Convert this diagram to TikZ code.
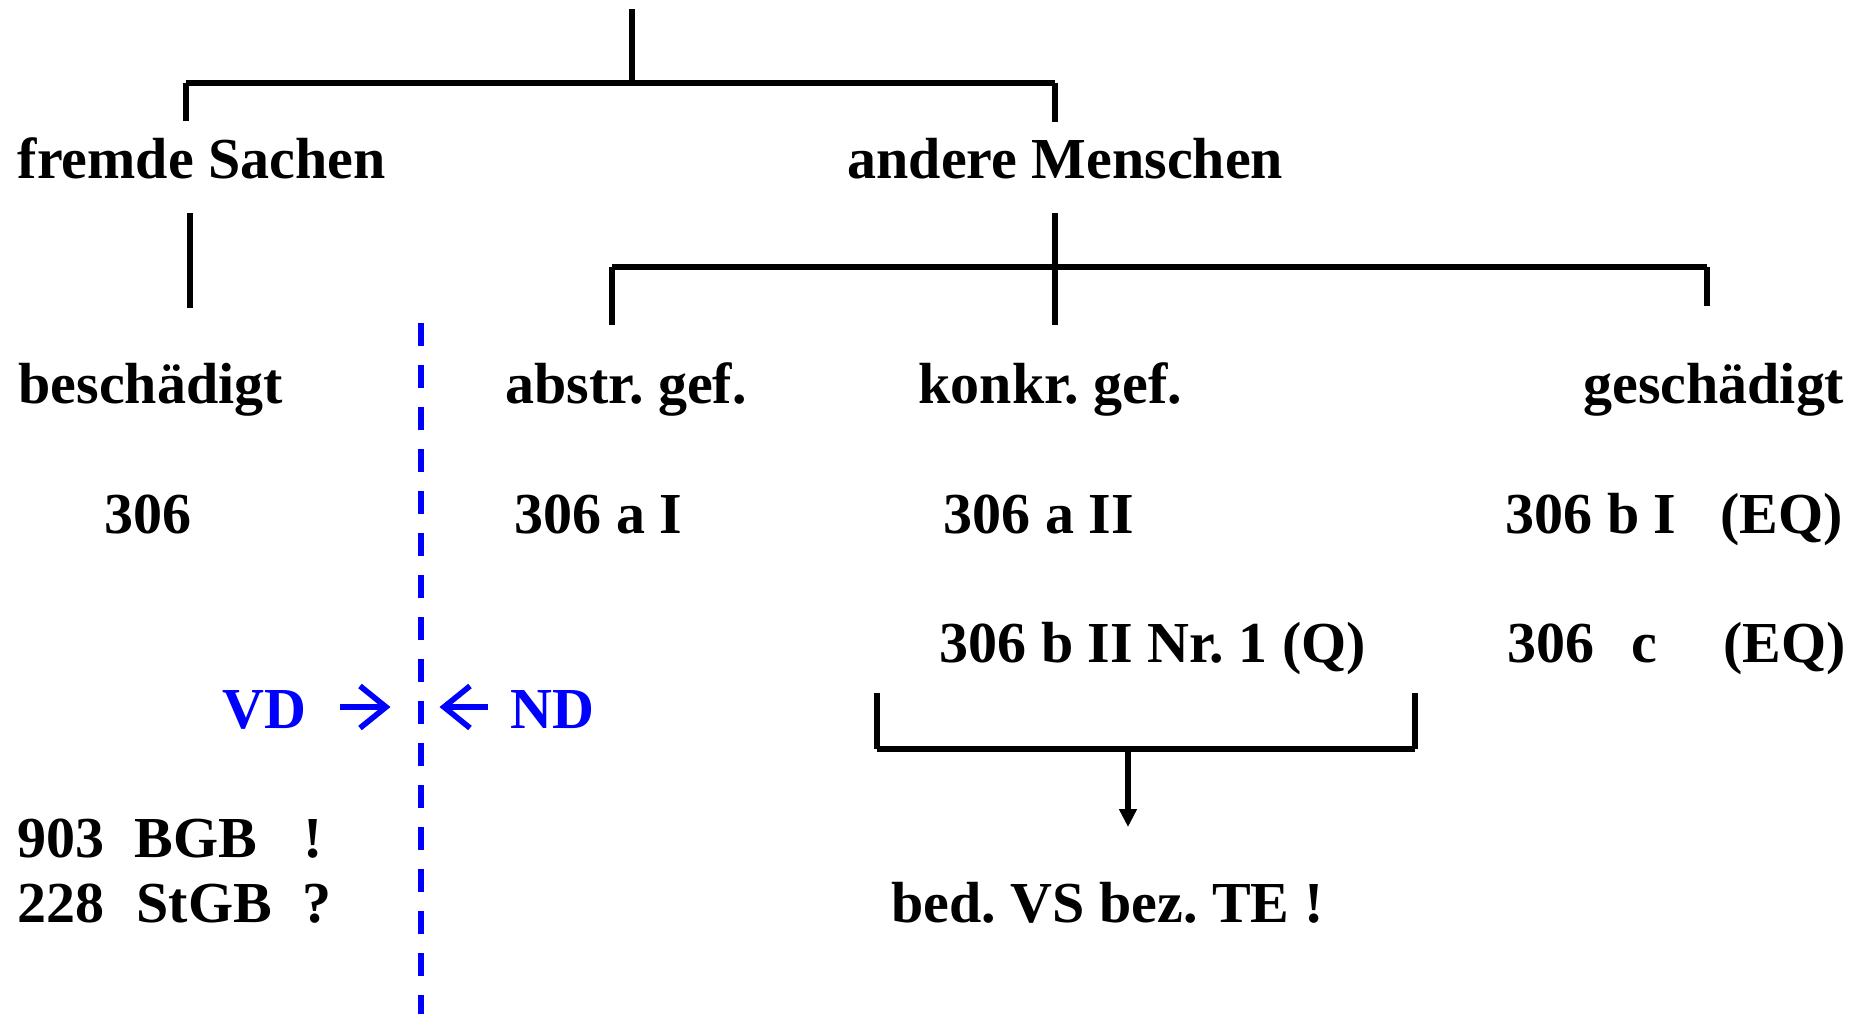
\documentclass[tikz,border=0pt]{standalone}
\usepackage{fontspec}
\setmainfont{Liberation Serif}
\usetikzlibrary{arrows.meta}
\begin{document}
\frenchspacing
\begin{tikzpicture}[x=0.1mm,y=-0.1mm,
  lbl/.style={anchor=base west,inner sep=0pt,font=\fontsize{16.5}{20}\selectfont\bfseries},
  lblr/.style={lbl,anchor=base east},
  bluelbl/.style={lbl,text=blue},
  tline/.style={line width=1.45pt,line cap=butt},
  hline/.style={line width=1.7pt},
  bluearrow/.style={draw=blue,line width=1.6pt,line join=miter},
  bluedash/.style={draw=blue,line width=1.6pt,dash pattern=on 2.3mm off 1.9mm}]
\useasboundingbox[fill=white] (0,0) rectangle (1865,1014);
% tree coordinates
\coordinate (top) at (632,9);
\coordinate (j1) at (632,83);
\coordinate (l1) at (186,83);
\coordinate (l1b) at (186,121);
\coordinate (r1) at (1055,83);
\coordinate (r1b) at (1055,122);
\coordinate (fsA) at (190,213);
\coordinate (fsB) at (190,308);
\coordinate (amA) at (1055,213);
\coordinate (amB) at (1055,325);
\coordinate (h2l) at (612,267);
\coordinate (h2lb) at (612,325);
\coordinate (h2r) at (1707,267);
\coordinate (h2rb) at (1707,306);
\coordinate (dashT) at (421,323);
\coordinate (dashB) at (421,1014);
\coordinate (bl) at (877,693);
\coordinate (blb) at (877,749);
\coordinate (br) at (1415,693);
\coordinate (brb) at (1415,749);
\coordinate (bm) at (1128,749);
% texts
\node[lbl] (fs) at (17,178) {fremde Sachen};
\node[lbl] (am) at (847,178) {andere Menschen};
\node[lbl] (besch) at (18,403) {beschädigt};
\node[lbl] (abstr) at (505,403) {abstr. gef.};
\node[lbl] (konkr) at (918,403) {konkr. gef.};
\node[lblr] (gesch) at (1845,403) {geschädigt};
\node[lbl] (p306) at (104,533) {306};
\node[lbl] (p306aI) at (514,533) {306 a I};
\node[lbl] (p306aII) at (943,533) {306 a II};
\node[lbl] (p306bI) at (1505,533) {306 b I\hspace{4.4mm}(EQ)};
\node[lbl] (p306bII) at (939,662) {306 b II Nr. 1 (Q)};
\node[lbl] (p306c) at (1507,662) {306\hspace{3.7mm}c\hspace{6.6mm}(EQ)};
\node[bluelbl] (vd) at (222,728) {VD};
\node[bluelbl] (nd) at (510,728) {ND};
\node[lbl] (bgb) at (17,857) {903\hspace{3.0mm}BGB\hspace{4.6mm}!};
\node[lbl] (stgb) at (17,922) {228\hspace{3.2mm}StGB\hspace{3.0mm}?};
\node[lbl] (bed) at (891,922) {bed. VS bez. TE !};
\coordinate (bedtop) at (1128,827);
% VD / ND arrows
\coordinate (vdA) at (340,707);
\coordinate (vdB) at (386,707);
\coordinate (ndA) at (488,707);
\coordinate (ndB) at (444,707);
\draw[bluearrow] (vdA) -- (vdB);
\draw[bluearrow] ([shift={(-26,-21)}]vdB) -- (vdB) -- ([shift={(-26,21)}]vdB);
\draw[bluearrow] (ndA) -- (ndB);
\draw[bluearrow] ([shift={(26,-21)}]ndB) -- (ndB) -- ([shift={(26,21)}]ndB);
% lines
\draw[tline] (top) -- (j1);
\draw[hline] (l1) -- (r1);
\draw[tline] (l1) -- (l1b);
\draw[tline] (r1) -- (r1b);
\draw[tline] (fsA) -- (fsB);
\draw[tline] (amA) -- (amB);
\draw[hline] (h2l) -- (h2r);
\draw[tline] (h2l) -- (h2lb);
\draw[tline] (h2r) -- (h2rb);
\draw[bluedash] (dashT) -- (dashB);
\draw[tline] (bl) -- (blb);
\draw[tline] (br) -- (brb);
\draw[hline] (blb) -- (brb);
\draw[tline,-{Triangle[length=1.8mm,width=1.7mm]}] (bm) -- (bedtop);
\end{tikzpicture}
\end{document}
